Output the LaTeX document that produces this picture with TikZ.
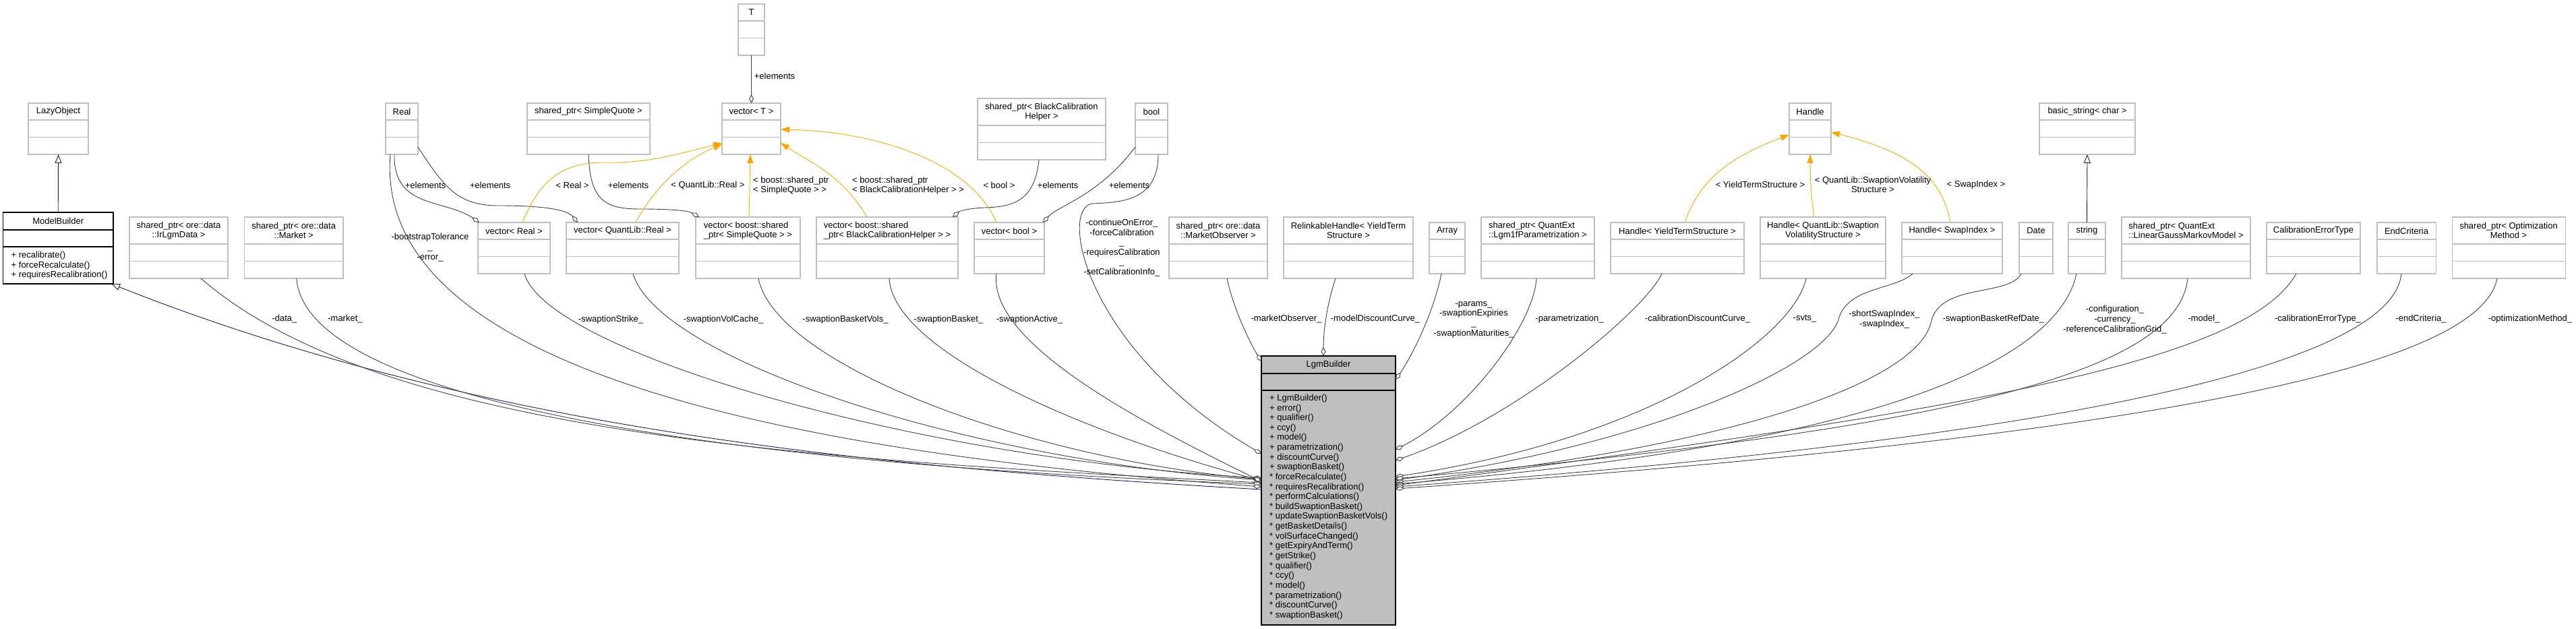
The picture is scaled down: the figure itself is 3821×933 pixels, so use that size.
\documentclass[tikz,border=0pt]{standalone}
\usepackage{fontspec}
\setmainfont{Liberation Sans}
\usetikzlibrary{arrows.meta}
\definecolor{grey75}{HTML}{BFBFBF}
\definecolor{grey25}{HTML}{404040}
\definecolor{midblue}{HTML}{191970}
\definecolor{orng}{HTML}{FFA500}

% [box style] name, left, top, width, title height, title align, title
\newcommand{\umlclass}[8][cls]{%
  \node[#1, anchor=north west, minimum width=#5pt, minimum height={#6pt+51pt}] (#2) at (#3,#4) {};
  \draw[sep] ([yshift=-#6pt]#2.north west) -- ([yshift=-#6pt]#2.north east);
  \draw[sep] ([yshift=-#6pt-25.5pt]#2.north west) -- ([yshift=-#6pt-25.5pt]#2.north east);
  \node[align=#7, inner sep=0pt] (#2t) at ([yshift=-#6pt/2]#2.north) {#8};
}

\begin{document}
\begin{tikzpicture}[
  x=1pt, y=-1pt,
  font=\fontsize{13}{14.6}\selectfont,
  cls/.style={draw=grey75, fill=white, line width=1.1pt, inner sep=0pt, outer sep=0pt},
  clsmain/.style={cls, draw=black},
  clsself/.style={cls, draw=black, fill=grey75},
  sep/.style={grey75, line width=1.1pt},
  sepmain/.style={black, line width=1.1pt},
  mem/.style={grey25, line width=0.9pt, -{Diamond[fill=white, length=13pt, width=7pt]}},
  tmpl/.style={orng, line width=0.9pt, -{Triangle[length=13pt, width=9pt]}},
  gen/.style={midblue, line width=0.9pt, -{Triangle[fill=white, length=13pt, width=10pt]}},
  lbl/.style={inner sep=0pt, align=center},
]
\useasboundingbox (0,0) rectangle (3821,933);

\umlclass{lazy}{42}{153}{89}{25}{center}{LazyObject}
\node[clsmain, anchor=north west, minimum width=163.5pt, minimum height=106pt] (mb) at (4.5,315) {};
\draw[sepmain] ([yshift=-26pt]mb.north west) -- ([yshift=-26pt]mb.north east);
\draw[sepmain] ([yshift=-51pt]mb.north west) -- ([yshift=-51pt]mb.north east);
\node[inner sep=0pt] (mbt) at ([yshift=-13pt]mb.north) {ModelBuilder};
\node[anchor=north west, align=left, inner sep=0pt] (mbm) at (16.5,373) {+ recalibrate()\\+ forceRecalculate()\\+ requiresRecalibration()};

\umlclass{irdata}{192}{322}{146}{40}{center}{shared\_ptr< ore::data\\::IrLgmData >}
\umlclass{mkt}{362.5}{322}{146.5}{40}{center}{shared\_ptr< ore::data\\::Market >}
\umlclass{real}{572}{153}{48}{25}{center}{Real}
\umlclass{sq}{782}{153}{182}{25}{center}{shared\_ptr< SimpleQuote >}
\umlclass{tcls}{1095}{6}{39}{25}{center}{T}
\umlclass{vect}{1071}{153}{87}{25}{center}{vector< T >}
\umlclass{bchp}{1450}{146}{190}{40}{center}{shared\_ptr< BlackCalibration\\Helper >}
\umlclass{boolc}{1684}{153}{48}{25}{center}{bool}
\umlclass{vreal}{709}{330}{107}{25}{center}{vector< Real >}
\umlclass{vqlreal}{840}{330}{167}{25}{center}{vector< QuantLib::Real >}
\umlclass{vsq}{1032}{322}{155}{40}{left}{vector< boost::shared\\\_ptr< SimpleQuote > >}
\umlclass{vbch}{1211}{322}{210}{40}{left}{vector< boost::shared\\\_ptr< BlackCalibrationHelper > >}
\umlclass{vbool}{1445}{330}{104}{25}{center}{vector< bool >}
\umlclass{mobs}{1734}{322}{146}{40}{center}{shared\_ptr< ore::data\\::MarketObserver >}
\umlclass{rhyts}{1904}{322}{192}{40}{center}{RelinkableHandle< YieldTerm\\Structure >}
\umlclass{arr}{2120}{330}{53}{25}{center}{Array}
\umlclass{lgmp}{2197}{322}{168}{40}{left}{shared\_ptr< QuantExt\\::Lgm1fParametrization >}
\umlclass{hyts}{2389}{330}{198}{25}{center}{Handle< YieldTermStructure >}
\umlclass{hsvol}{2611}{322}{186}{40}{center}{Handle< QuantLib::Swaption\\VolatilityStructure >}
\umlclass{hswap}{2821}{330}{149}{25}{center}{Handle< SwapIndex >}
\umlclass{datec}{2995}{330}{50}{25}{center}{Date}
\umlclass{strc}{3068}{330}{55}{25}{center}{string}
\umlclass{lgmm}{3147}{322}{191}{40}{left}{shared\_ptr< QuantExt\\::LinearGaussMarkovModel >}
\umlclass{calerr}{3362}{330}{139}{25}{center}{CalibrationErrorType}
\umlclass{endc}{3526}{330}{87}{25}{center}{EndCriteria}
\umlclass{optm}{3637}{322}{168}{40}{center}{shared\_ptr< Optimization\\Method >}
\umlclass{handle}{2654}{153}{62}{25}{center}{Handle}
\umlclass{bstr}{3025}{153}{142}{25}{center}{basic\_string< char >}

\node[clsself, anchor=north west, minimum width=199pt, minimum height=399pt] (lgmb) at (1871,528) {};
\draw[sepmain] ([yshift=-26pt]lgmb.north west) -- ([yshift=-26pt]lgmb.north east);
\draw[sepmain] ([yshift=-51pt]lgmb.north west) -- ([yshift=-51pt]lgmb.north east);
\node[inner sep=0pt] (lgmbt) at ([yshift=-13pt]lgmb.north) {LgmBuilder};
\foreach \m [count=\i from 0] in {{+ LgmBuilder()}, {+ error()}, {+ qualifier()}, {+ ccy()}, {+ model()},
  {+ parametrization()}, {+ discountCurve()}, {+ swaptionBasket()}, {* forceRecalculate()},
  {* requiresRecalibration()}, {* performCalculations()}, {* buildSwaptionBasket()},
  {* updateSwaptionBasketVols()}, {* getBasketDetails()}, {* volSurfaceChanged()},
  {* getExpiryAndTerm()}, {* getStrike()}, {* qualifier()}, {* ccy()}, {* model()},
  {* parametrization()}, {* discountCurve()}, {* swaptionBasket()}}
  \node[anchor=west, inner sep=0pt] (meth\i) at (1883,{591+14.636*\i}) {\m};

\draw[gen] (mb.north) -- (lazy.south);
\draw[gen] (strc.north) -- (bstr.south);
\draw[gen] ([yshift=-198pt]lgmb.north west) .. controls (1271,692) and (700,633) .. ([xshift=-3pt]mb.south east);

\draw[mem] (tcls.south) -- (vect.north);
\draw[mem] ([xshift=-11pt]real.south) .. controls (583,310) and (660,295) .. ([xshift=2pt]vreal.north west);
\draw[mem] ([yshift=11pt]real.south east) .. controls (660,280) and (680,305) .. (740,305) .. controls (800,305) and (840,310) .. ([xshift=17pt]vqlreal.north west);
\draw[mem] (sq.south) .. controls (875,300) and (900,310) .. (950,310) .. controls (990,310) and (1020,312) .. ([xshift=5pt]vsq.north west);
\draw[mem] ([xshift=-4pt]bchp.south) .. controls (1535,300) and (1500,307) .. (1460,308) .. controls (1440,309) and (1425,312) .. ([xshift=-8pt]vbch.north east);
\draw[mem] ([yshift=11pt]boolc.south west) .. controls (1630,290) and (1570,305) .. ([xshift=-2pt]vbool.north east);

\draw[tmpl] ([xshift=12.5pt]vreal.north) .. controls (800,270) and (830,240) .. (900,241) .. controls (960,242) and (1000,230) .. ([yshift=17pt]vect.south west);
\draw[tmpl] ([xshift=19.5pt]vqlreal.north) .. controls (970,280) and (1010,240) .. ([yshift=15pt]vect.south west);
\draw[tmpl] ([xshift=1.5pt]vsq.north) -- ([xshift=-1.5pt]vect.south);
\draw[tmpl] ([xshift=-30pt]vbch.north) .. controls (1250,260) and (1200,240) .. ([yshift=17pt]vect.south east);
\draw[tmpl] ([xshift=-19pt]vbool.north) .. controls (1440,240) and (1300,195) .. ([yshift=37pt]vect.south east);
\draw[tmpl] ([xshift=11pt]hyts.north) .. controls (2520,270) and (2560,235) .. ([yshift=29pt]handle.south west);
\draw[tmpl] ([xshift=-13pt]hsvol.north) .. controls (2686,290) and (2685,260) .. (handle.south);
\draw[tmpl] ([xshift=-2.5pt]hswap.north) .. controls (2880,260) and (2830,225) .. ([yshift=33pt]handle.south east);

\draw[mem] ([xshift=33pt]irdata.south) .. controls (560,640) and (1171,681) .. ([yshift=-188pt]lgmb.north west);
\draw[mem] ([xshift=4pt]mkt.south) .. controls (455,600) and (1100,690) .. ([yshift=-190pt]lgmb.north west);
\draw[mem] ([xshift=-17pt]real.south) .. controls (550,580) and (1300,680) .. ([yshift=-194pt]lgmb.north west);
\draw[mem] ([xshift=15.5pt]vreal.south) .. controls (810,520) and (1350,680) .. ([yshift=-181pt]lgmb.north west);
\draw[mem] ([xshift=15.5pt]vqlreal.south) .. controls (975,530) and (1420,680) .. ([yshift=-184pt]lgmb.north west);
\draw[mem] ([xshift=15.5pt]vsq.south) .. controls (1150,540) and (1520,680) .. ([yshift=-183pt]lgmb.north west);
\draw[mem] ([xshift=3pt]vbch.south) .. controls (1325,520) and (1600,640) .. ([yshift=-185pt]lgmb.north west);
\draw[mem] ([xshift=-19pt]vbool.south) .. controls (1465,510) and (1700,630) .. ([yshift=-186pt]lgmb.north west);
\draw[mem] ([xshift=10pt]boolc.south) .. controls (1718,300) and (1660,300) .. (1620,302) .. controls (1570,310) and (1610,520) .. ([yshift=-145pt]lgmb.north west);
\draw[mem] ([xshift=13pt]mobs.south) .. controls (1830,460) and (1855,510) .. ([yshift=-8pt]lgmb.north west);
\draw[mem] ([xshift=-19pt]rhyts.south) .. controls (1972,440) and (1963,480) .. ([xshift=-7.5pt]lgmb.north);
\draw[mem] ([xshift=-8.5pt]arr.south) .. controls (2125,470) and (2090,535) .. ([yshift=-35pt]lgmb.north east);
\draw[mem] ([xshift=-2pt]lgmp.south) .. controls (2275,480) and (2180,610) .. ([yshift=-139pt]lgmb.north east);
\draw[mem] ([xshift=-23pt]hyts.south) .. controls (2440,460) and (2250,620) .. ([yshift=-155pt]lgmb.north east);
\draw[mem] ([xshift=-25pt]hsvol.south) .. controls (2660,500) and (2450,650) .. ([yshift=-179pt]lgmb.north east);
\draw[mem] ([xshift=-58.5pt]hswap.south) .. controls (2810,430) and (2745,425) .. (2728,470) .. controls (2715,540) and (2450,660) .. ([yshift=-184pt]lgmb.north east);
\draw[mem] ([xshift=-22pt]datec.south) .. controls (2980,440) and (2880,420) .. (2865,475) .. controls (2850,560) and (2600,660) .. ([yshift=-187pt]lgmb.north east);
\draw[mem] ([xshift=-15.5pt]strc.south) .. controls (3060,500) and (2900,650) .. ([yshift=-190pt]lgmb.north east);
\draw[mem] ([xshift=2.5pt]lgmm.south) .. controls (3230,560) and (2850,640) .. ([yshift=-182pt]lgmb.north east);
\draw[mem] ([xshift=-25.5pt]calerr.south) .. controls (3330,540) and (2900,610) .. ([yshift=-192pt]lgmb.north east);
\draw[mem] ([xshift=-7.5pt]endc.south) .. controls (3550,520) and (3200,640) .. ([yshift=-194pt]lgmb.north east);
\draw[mem] ([xshift=-17pt]optm.south) .. controls (3680,530) and (3300,640) .. ([yshift=-197pt]lgmb.north east);

\node[lbl] (le1) at (631,275) {+elements};
\node[lbl] (le2) at (727,275) {+elements};
\node[lbl] (le3) at (932,275) {+elements};
\node[lbl] (le4) at (1149,113) {+elements};
\node[lbl] (le5) at (1569,275) {+elements};
\node[lbl] (le6) at (1675,275) {+elements};
\node[lbl] (lt1) at (849,275) {< Real >};
\node[lbl] (lt2) at (1050,275) {< QuantLib::Real >};
\node[lbl, align=left, anchor=west] (lt3) at (1117,275) {< boost::shared\_ptr\\< SimpleQuote > >};
\node[lbl, align=left, anchor=west] (lt4) at (1264,275) {< boost::shared\_ptr\\< BlackCalibrationHelper > >};
\node[lbl] (lt5) at (1482,275) {< bool >};
\node[lbl] (lt6) at (2611,274) {< YieldTermStructure >};
\node[lbl] (lt7) at (2778,274) {< QuantLib::SwaptionVolatility\\Structure >};
\node[lbl] (lt8) at (2931,274) {< SwapIndex >};

\node[lbl] (lm1) at (422,473) {-data\_};
\node[lbl] (lm2) at (512,473) {-market\_};
\node[lbl] (lm3) at (638,367) {-bootstrapTolerance\\\_\\-error\_};
\node[lbl] (lm4) at (906,474) {-swaptionStrike\_};
\node[lbl] (lm5) at (1073,474) {-swaptionVolCache\_};
\node[lbl] (lm6) at (1254,474) {-swaptionBasketVols\_};
\node[lbl] (lm7) at (1407,474) {-swaptionBasket\_};
\node[lbl] (lm8) at (1527,474) {-swaptionActive\_};
\node[lbl] (lm9) at (1664,367.5) {-continueOnError\_\\-forceCalibration\\\_\\-requiresCalibration\\\_\\-setCalibrationInfo\_};
\node[lbl] (lm10) at (1908,473) {-marketObserver\_};
\node[lbl] (lm11) at (2040,473) {-modelDiscountCurve\_};
\node[lbl] (lm12) at (2186,474) {-params\_\\-swaptionExpiries\\\_\\-swaptionMaturities\_};
\node[lbl] (lm13) at (2328,473) {-parametrization\_};
\node[lbl] (lm14) at (2518,473) {-calibrationDiscountCurve\_};
\node[lbl] (lm15) at (2677,473) {-svts\_};
\node[lbl] (lm16) at (2795,473.5) {-shortSwapIndex\_\\-swapIndex\_};
\node[lbl] (lm17) at (2957,473) {-swaptionBasketRefDate\_};
\node[lbl] (lm18) at (3137,474) {-configuration\_\\-currency\_\\-referenceCalibrationGrid\_};
\node[lbl] (lm19) at (3269,473) {-model\_};
\node[lbl] (lm20) at (3438,473) {-calibrationErrorType\_};
\node[lbl] (lm21) at (3591,473) {-endCriteria\_};
\node[lbl] (lm22) at (3753,473) {-optimizationMethod\_};
\end{tikzpicture}
\end{document}
